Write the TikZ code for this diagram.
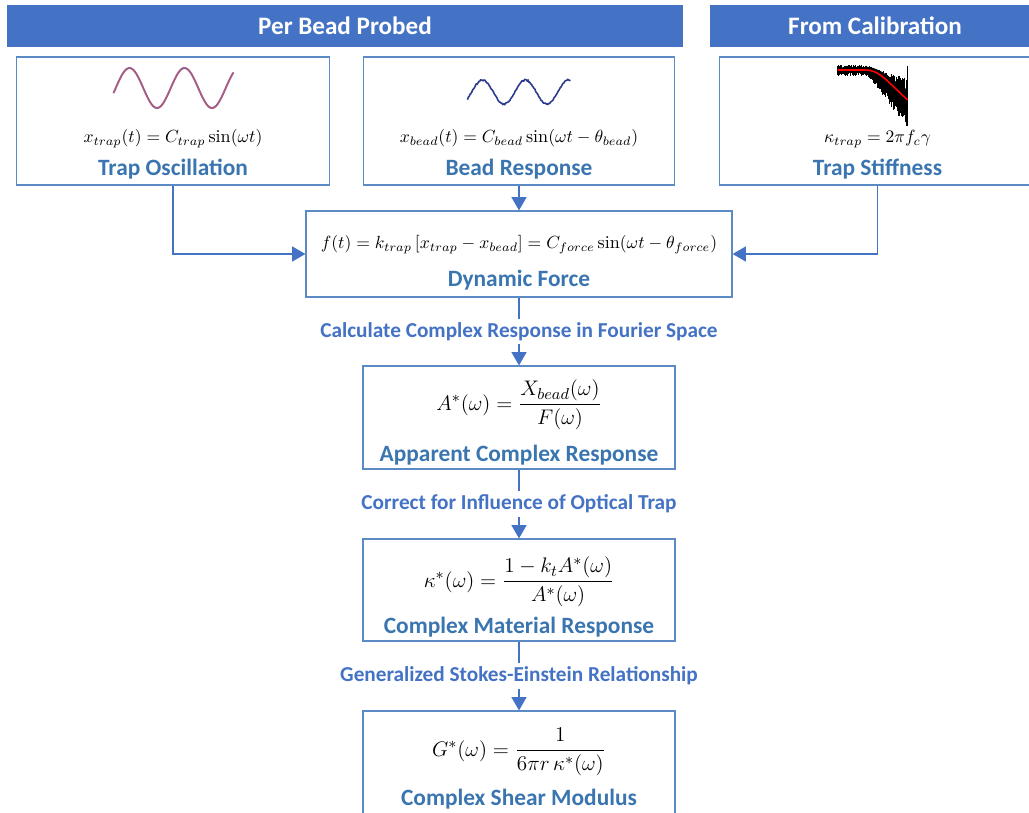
\documentclass[tikz,border=0pt]{standalone}
\usepackage{amsmath,amssymb}
\usepackage{fontspec}
\newfontfamily\calibri{Carlito}
\usetikzlibrary{arrows.meta}
\definecolor{headblue}{HTML}{4472C4}
\definecolor{boxblue}{HTML}{5B8BC6}
\definecolor{titleblue}{HTML}{3A75B0}
\definecolor{wavered}{HTML}{C4506E}
\definecolor{wavenavy}{HTML}{2B3A8C}

\begin{document}
\begin{tikzpicture}[auto, node distance=3cm, thick,
	box node/.style={draw=boxblue,line width=0.7pt,minimum width=6.24cm},
	head node/.style={fill=headblue,text=white,minimum height=0.84cm,inner sep=0pt,
		font=\calibri\fontsize{14.3}{16}\selectfont\bfseries},
	title node/.style={text=titleblue,inner sep=0pt,anchor=base,
		font=\calibri\fontsize{13.3}{15}\selectfont\bfseries},
	eq node/.style={inner sep=0pt,font=\fontsize{10.3}{12}\selectfont},
	frac node/.style={inner sep=0pt,font=\fontsize{12.5}{14}\selectfont},
	step node/.style={text=headblue,fill=white,inner sep=2pt,
		font=\calibri\fontsize{12.1}{14}\selectfont\bfseries},
	flow/.style={draw,color=headblue,line width=0.8pt,-{Triangle[width=8.5pt,length=7.5pt]}}]
	
	\useasboundingbox (0,0) rectangle (20.58,-16.26);
	
	\node[head node,minimum width=13.52cm] (perbead) at (6.9,-0.52) {Per Bead Probed};
	\node[head node,minimum width=6.6cm] (calib) at (17.5,-0.52) {From Calibration};
	
	\node[box node,minimum width=8.52cm,minimum height=1.72cm] (dyn) at (10.38,-5.08) {};
	\node[box node,minimum width=6.22cm,minimum height=2.56cm] (bead) [above of=dyn,node distance=2.66cm] {};
	\node[box node,minimum width=6.26cm,minimum height=2.56cm] (trap) [left of=bead,node distance=6.92cm] {};
	\node[box node,minimum width=6.32cm,minimum height=2.56cm] (stiff) [right of=bead,node distance=7.17cm] {};
	\node[box node,minimum height=2.06cm] (app) [below of=dyn,node distance=3.27cm] {};
	\node[box node,minimum height=2.04cm] (mat) [below of=app,node distance=3.45cm] {};
	\node[box node,minimum height=2.06cm] (shear) [below of=mat,node distance=3.45cm] {};
	
	% equations and titles
	\node[eq node,anchor=base] (trapeq) at ([yshift=0.86cm]trap.south) {$x_{trap}(t) = C_{trap}\sin(\omega t)$};
	\node[title node] (trapname) at ([yshift=0.2cm]trap.south) {Trap Oscillation};
	\node[eq node,anchor=base] (beadeq) at ([yshift=0.86cm]bead.south) {$x_{bead}(t) = C_{bead}\sin(\omega t - \theta_{bead})$};
	\node[title node] (beadname) at ([yshift=0.2cm]bead.south) {Bead Response};
	\node[eq node,anchor=base] (stiffeq) at ([yshift=0.86cm]stiff.south) {$\kappa_{trap} = 2\pi f_c\gamma$};
	\node[title node] (stiffname) at ([yshift=0.2cm]stiff.south) {Trap Stiffness};
	\node[eq node,anchor=base] (dyneq) at ([yshift=0.1cm]dyn.center) {$f(t) = k_{trap}\left[x_{trap} - x_{bead}\right] = C_{force}\sin(\omega t - \theta_{force})$};
	\node[title node] (dynname) at ([yshift=-0.66cm]dyn.center) {Dynamic Force};
	\node[frac node] (appeq) at ([yshift=0.25cm]app.center) {$A^*(\omega) = \dfrac{X_{bead}(\omega)}{F(\omega)}$};
	\node[title node] (appname) at ([yshift=-0.87cm]app.center) {Apparent Complex Response};
	\node[frac node] (mateq) at ([yshift=0.16cm]mat.center) {$\kappa^*(\omega) = \dfrac{1 - k_t A^*(\omega)}{A^*(\omega)}$};
	\node[title node] (matname) at ([yshift=-0.86cm]mat.center) {Complex Material Response};
	\node[frac node] (sheareq) at ([yshift=0.21cm]shear.center) {$G^*(\omega) = \dfrac{1}{6\pi r\,\kappa^*(\omega)}$};
	\node[title node] (shearname) at ([yshift=-0.85cm]shear.center) {Complex Shear Modulus};
	
	% small traces
	\begin{scope}[shift={(trap.center)}]
		\draw[wavered,line width=1.1pt] plot[domain=-1.19:1.21,samples=90,smooth]
			(\x,{0.66+0.4*cos(deg((\x+0.87)*2*pi/1.1))});
		\draw[wavenavy!70,line width=0.3pt] plot[domain=-1.19:1.21,samples=120]
			(\x,{0.66+0.4*cos(deg((\x+0.87)*2*pi/1.1))+0.02*rand});
	\end{scope}
	\begin{scope}[shift={(bead.center)}]
		\draw[wavenavy,line width=0.9pt] plot[domain=-1.03:1.03,samples=120]
			(\x,{0.58+0.24*cos(deg((\x+0.73)*2*pi/0.86))+0.015*rand});
	\end{scope}
	\begin{scope}[shift={(stiff.center)}]
		\fill[black] (-0.8,1.07) -- (-0.2,1.08) .. controls (0.05,1.06) and (0.2,0.9) .. (0.6,0.62)
			-- (0.6,0.2) .. controls (0.3,0.35) and (0.05,0.8) .. (-0.2,0.95) -- (-0.8,0.97) -- cycle;
		\foreach \i in {0,...,150} {
			\pgfmathsetmacro\xx{-0.8+1.4*\i/150}
			\pgfmathsetmacro\cc{1.02-0.75*max(\xx+0.2,0)}
			\pgfmathsetmacro\ww{0.07+0.3*max(\xx+0.2,0)}
			\draw[black,line width=0.45pt] (\xx,{\cc+\ww*(0.5+0.9*rnd)}) -- (\xx,{\cc-\ww*(0.7+1.1*rnd)});
		}
		\draw[black,line width=1pt] (0.6,1.1) -- (0.6,0.0);
		\draw[red,line width=0.9pt] (-0.8,1.02) -- (-0.25,1.02) .. controls (0.0,1.02) and (0.1,0.9) .. (0.6,0.42);
	\end{scope}
	
	\draw[flow] (trap.south) |- (dyn.west);
	\draw[flow] (stiff.south) |- (dyn.east);
	\draw[flow] (bead) -- (dyn);
	
	\path[flow]
	(dyn) edge node[step node,pos=0.5,anchor=center] {Calculate Complex Response in Fourier Space} (app)
	(app) edge node[step node,pos=0.5,anchor=center] {Correct for Influence of Optical Trap} (mat)
	(mat) edge node[step node,pos=0.5,anchor=center] {Generalized Stokes-Einstein Relationship} (shear);
\end{tikzpicture}
\end{document}
